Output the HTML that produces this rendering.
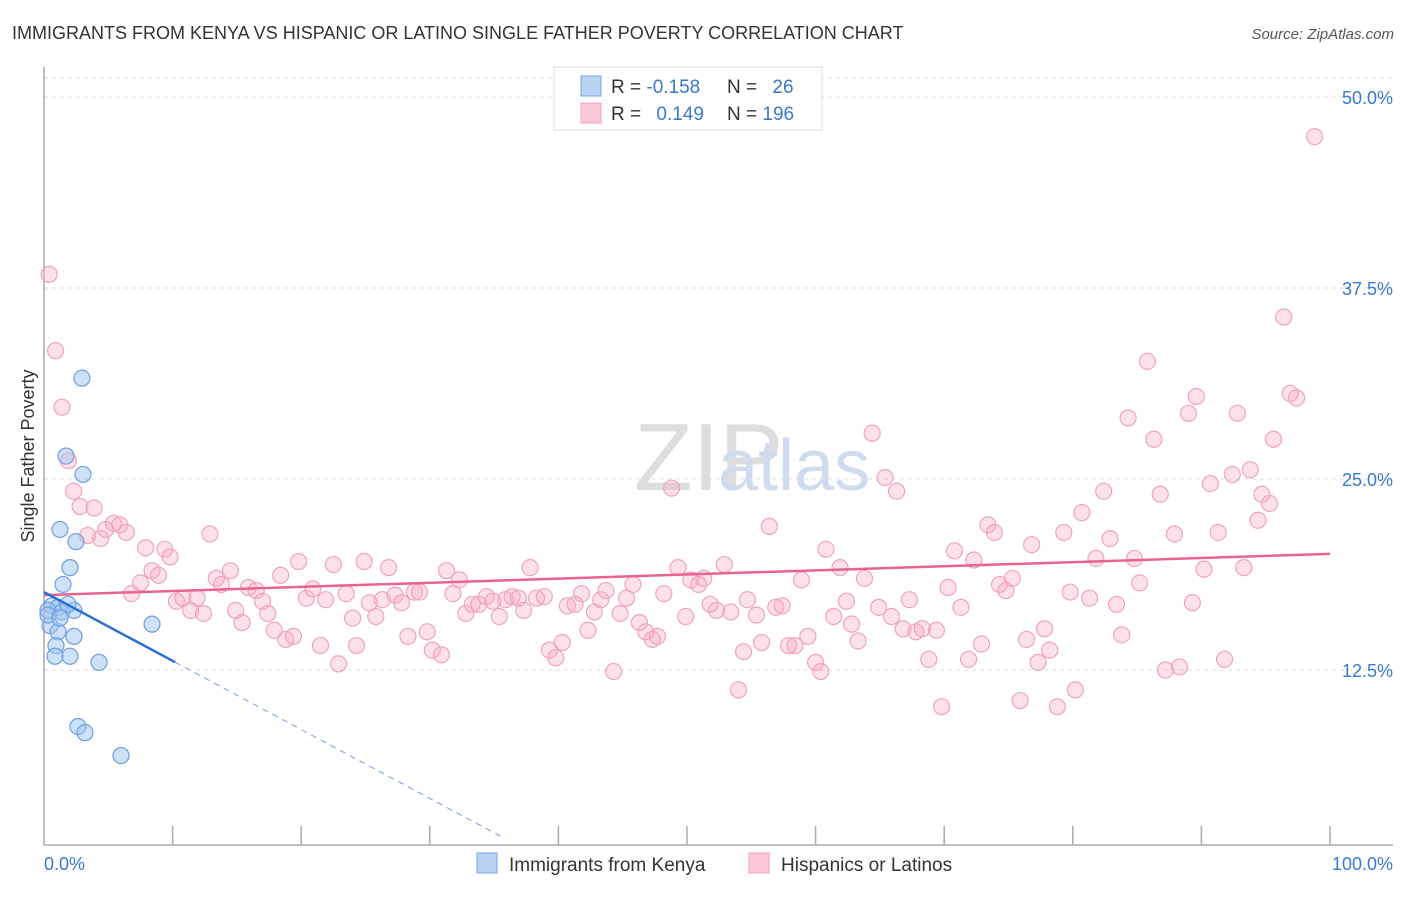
<!DOCTYPE html>
<html><head><meta charset="utf-8"><style>
body{margin:0;background:#fff;font-family:"Liberation Sans",sans-serif}
svg text{font-family:"Liberation Sans",sans-serif}
</style></head><body>
<svg id="chart" width="1406" height="892" xmlns="http://www.w3.org/2000/svg">
<text x="12" y="39" font-size="18" fill="#333">IMMIGRANTS FROM KENYA VS HISPANIC OR LATINO SINGLE FATHER POVERTY CORRELATION CHART</text>
<text x="1394" y="39" font-size="15" fill="#555" font-style="italic" text-anchor="end">Source: ZipAtlas.com</text>
<text x="634" y="490" font-size="96" fill="#ddd" font-family="Liberation Serif">ZIP</text>
<text x="718" y="490" font-size="72" fill="#cfdcf0">atlas</text>
<text transform="translate(34,456) rotate(-90)" font-size="18" fill="#333" text-anchor="middle">Single Father Poverty</text>
<g id="grid"></g><g id="axes"></g><g id="pink"></g><g id="blue"></g><g id="trends"></g>
<g>
<rect x="554" y="67" width="268" height="63" fill="#fff" stroke="#ddd"/>
<rect x="581" y="76" width="20" height="20" fill="#b9d3f5" stroke="#7aa6e2"/>
<rect x="581" y="103" width="20" height="20" fill="#fac8d8" stroke="#f0a0bc"/>
<text x="611" y="93" font-size="19" fill="#333">R = <tspan fill="#3a78d0">-0.158</tspan></text>
<text x="727" y="93" font-size="19" fill="#333">N = <tspan fill="#3a78d0" dx="10">26</tspan></text>
<text x="611" y="120" font-size="19" fill="#333">R = <tspan fill="#3a78d0" dx="10">0.149</tspan></text>
<text x="727" y="120" font-size="19" fill="#333">N = <tspan fill="#3a78d0">196</tspan></text>
</g>
<g>
<rect x="477" y="853" width="20" height="20" fill="#b9d3f5" stroke="#7aa6e2"/>
<text x="509" y="871" font-size="19" fill="#333">Immigrants from Kenya</text>
<rect x="749" y="853" width="20" height="20" fill="#fac8d8" stroke="#f0a0bc"/>
<text x="781" y="871" font-size="19" fill="#333">Hispanics or Latinos</text>
</g>
</svg>
<script>
const yTicks=[12.5,25,37.5,50];
const yTickLabels=["12.5%","25.0%","37.5%","50.0%"];
const xTickValues=[0,10,20,30,40,50,60,70,80,90,100];
const xEndLabels=["0.0%","100.0%"];
const blueX=[2.95,1.71,3.03,1.24,2.49,2.02,1.48,0.62,1.09,0.31,1.40,2.33,1.87,0.47,1.09,2.33,0.93,0.86,2.02,4.28,8.4,2.64,3.19,5.99,0.31,1.24];
const blueY=[31.6,26.5,25.3,21.7,20.9,19.2,18.1,16.7,16.6,16.4,16.3,16.4,16.8,15.4,15.0,14.7,14.1,13.4,13.4,13.0,15.5,8.8,8.4,6.9,16.1,15.9];
const pinkX=[0.4,0.9,1.4,1.9,2.3,2.8,3.9,3.4,4.4,4.8,5.4,5.9,6.4,6.8,7.5,7.9,8.4,8.9,9.4,9.8,10.3,10.8,11.4,11.9,12.4,12.9,13.4,13.8,14.5,14.9,15.4,15.9,16.5,17.0,17.4,17.9,18.4,18.8,19.4,19.8,20.4,20.9,21.5,21.9,22.5,22.9,23.5,24.0,24.3,24.9,25.3,25.8,26.3,26.8,27.3,27.8,28.3,28.8,29.2,29.8,30.2,30.9,31.3,31.8,32.3,32.8,33.3,33.8,34.4,34.9,35.4,35.9,36.4,36.9,37.3,37.8,38.3,38.9,39.3,39.8,40.3,40.7,41.3,41.8,42.3,42.8,43.3,43.7,44.3,44.8,45.3,45.8,46.3,46.8,47.3,47.7,48.2,48.8,49.3,49.9,50.3,50.9,51.3,51.8,52.3,52.9,53.4,54.0,54.4,54.7,55.4,55.8,56.4,56.9,57.4,57.9,58.4,58.9,59.4,60.0,60.4,60.8,61.4,61.9,62.4,62.8,63.3,63.8,64.4,64.9,65.4,65.9,66.3,66.8,67.3,67.8,68.3,68.8,69.4,69.8,70.3,70.8,71.3,71.9,72.3,72.9,73.4,73.9,74.3,74.8,75.3,75.9,76.4,76.8,77.3,77.8,78.2,78.8,79.3,79.8,80.2,80.7,81.3,81.8,82.4,82.9,83.4,83.8,84.3,84.8,85.2,85.8,86.3,86.8,87.2,87.9,88.3,89.0,89.6,89.3,90.2,90.7,91.3,91.8,92.4,92.8,93.3,93.8,94.4,94.7,95.3,95.6,96.4,96.9,97.4,98.8];
const pinkY=[38.4,33.4,29.7,26.2,24.2,23.2,23.1,21.3,21.1,21.7,22.1,22.0,21.5,17.5,18.2,20.5,19.0,18.7,20.4,19.9,17.0,17.2,16.4,17.2,16.2,21.4,18.5,18.1,19.0,16.4,15.6,17.9,17.7,17.0,16.2,15.1,18.7,14.5,14.7,19.6,17.2,17.8,14.1,17.1,19.4,12.9,17.5,15.9,14.1,19.6,16.9,16.0,17.1,19.2,17.4,16.9,14.7,17.6,17.6,15.0,13.8,13.5,19.0,17.5,18.4,16.2,16.8,16.8,17.3,17.0,16.0,17.1,17.3,17.2,16.4,19.2,17.2,17.3,13.8,13.3,14.3,16.7,16.8,17.5,15.1,16.3,17.1,17.7,12.4,16.2,17.2,18.1,15.6,15.0,14.5,14.7,17.5,24.4,19.2,16.0,18.4,18.1,18.5,16.8,16.4,19.4,16.3,11.2,13.7,17.1,16.1,14.3,21.9,16.6,16.7,14.1,14.1,18.4,14.7,13.0,12.4,20.4,16.0,19.2,17.0,15.5,14.4,18.5,28.0,16.6,25.1,16.0,24.2,15.2,17.1,15.0,15.2,13.2,15.1,10.1,17.9,20.3,16.6,13.2,19.7,14.2,22.0,21.5,18.1,17.7,18.5,10.5,14.5,20.7,13.0,15.2,13.8,10.1,21.5,17.6,11.2,22.8,17.2,19.8,24.2,21.1,16.8,14.8,29.0,19.8,18.2,32.7,27.6,24.0,12.5,21.4,12.7,29.3,30.4,16.9,19.1,24.7,21.5,13.2,25.3,29.3,19.2,25.6,22.3,24.0,23.4,27.6,35.6,30.6,30.3,47.4];
const pinkTrend=[17.4,20.1];   // value at x=0 and x=100
const blueTrend=[17.6,-0.45];  // intercept, slope
const blueSolidEnd=10.2, blueDashEnd=35.5;

const NS="http://www.w3.org/2000/svg";
const X0=44,X1=1330,YBASE=861,YPX=15.28;
const sx=v=>X0+(X1-X0)*v/100;
const sy=v=>YBASE-v*YPX;
function mk(tag,attrs,parent){const e=document.createElementNS(NS,tag);for(const k in attrs)e.setAttribute(k,attrs[k]);parent.appendChild(e);return e;}
const grid=document.getElementById('grid'),axes=document.getElementById('axes');
let g=mk('line',{x1:X0,x2:1393,y1:78,y2:78,stroke:'#ddd','stroke-dasharray':'4,4'},grid);


yTicks.forEach((t,i)=>{
  const l=mk('line',{x1:X0,x2:1393,y1:sy(t),y2:sy(t),stroke:'#ddd','stroke-dasharray':'4,4'},grid);
  
  
  const tx=mk('text',{x:1393,y:sy(t)+7,'font-size':18,fill:'#3a78d0','text-anchor':'end'},axes);
  tx.textContent=yTickLabels[i];
  
  
});
let a=mk('line',{x1:X0,x2:X0,y1:67,y2:845,stroke:'#aaa','stroke-width':1.5},axes);


a=mk('line',{x1:X0,x2:1393,y1:845,y2:845,stroke:'#aaa','stroke-width':1.5},axes);


xTickValues.forEach(v=>{
  if(v===0)return;
  const t=mk('line',{x1:sx(v),x2:sx(v),y1:826,y2:845,stroke:'#aaa','stroke-width':1.5},axes);
  
  
});
let xl=mk('text',{x:44,y:870,'font-size':18,fill:'#3a78d0'},axes);xl.textContent=xEndLabels[0];


xl=mk('text',{x:1393,y:870,'font-size':18,fill:'#3a78d0','text-anchor':'end'},axes);xl.textContent=xEndLabels[1];



const pg=document.getElementById('pink');
pinkX.forEach((v,i)=>{
  const c=mk('circle',{cx:sx(v),cy:sy(pinkY[i]),r:8,fill:'rgba(246,170,196,0.35)',stroke:'#f0a3bf','stroke-width':1.2},pg);
  
  
});
const bg=document.getElementById('blue');
blueX.forEach((v,i)=>{
  const c=mk('circle',{cx:sx(v),cy:sy(blueY[i]),r:8,fill:'rgba(160,196,240,0.5)',stroke:'#6d9fe0','stroke-width':1.2},bg);
  
  
});
const tg=document.getElementById('trends');
let tl=mk('line',{x1:sx(0),y1:sy(pinkTrend[0]),x2:sx(100),y2:sy(pinkTrend[1]),stroke:'#e8648f','stroke-width':2.5},tg);


const bv=x=>blueTrend[0]+blueTrend[1]*x;
tl=mk('line',{x1:sx(0),y1:sy(bv(0)),x2:sx(blueSolidEnd),y2:sy(bv(blueSolidEnd)),stroke:'#2a6fd6','stroke-width':2.5},tg);


tl=mk('line',{x1:sx(blueSolidEnd),y1:sy(bv(blueSolidEnd)),x2:sx(blueDashEnd),y2:sy(bv(blueDashEnd)),stroke:'#6d9fe0','stroke-width':1,'stroke-dasharray':'6,5'},tg);


</script>
</body></html>
